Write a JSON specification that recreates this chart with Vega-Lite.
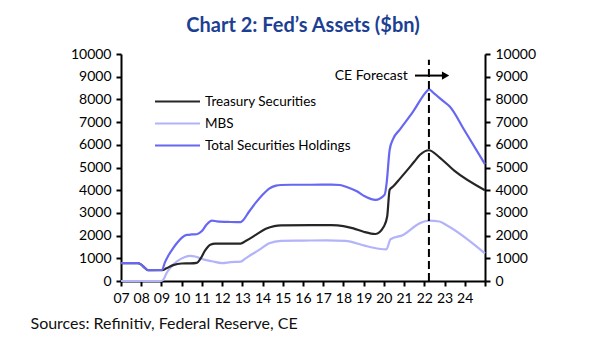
{
  "$schema": "https://vega.github.io/schema/vega-lite/v6.json",
  "width": 364,
  "height": 227,
  "autosize": {"type": "none"},
  "padding": {"left": 121, "top": 54, "right": 120, "bottom": 60},
  "background": "white",
  "config": {
    "view": {"stroke": null},
    "font": "Lato",
    "axis": {
      "domainColor": "black",
      "domainWidth": 2,
      "tickColor": "black",
      "tickWidth": 2,
      "tickSize": 5,
      "labelColor": "black",
      "labelFont": "Lato",
      "labelFontSize": 14,
      "grid": false,
      "labelPadding": 5
    }
  },
  "title": {
    "text": "Chart 2: Fed’s Assets ($bn)",
    "anchor": "middle",
    "frame": "group",
    "font": "Lato",
    "fontSize": 20,
    "fontWeight": "bold",
    "color": "#1d3f93",
    "offset": 11
  },
  "datasets": {
    "fed": [
      {"d": "2007-01-01", "s": "MBS", "v": 0},
      {"d": "2009-01-01", "s": "MBS", "v": 0},
      {"d": "2009-02-15", "s": "MBS", "v": 100},
      {"d": "2009-04-01", "s": "MBS", "v": 340},
      {"d": "2009-07-01", "s": "MBS", "v": 650},
      {"d": "2009-10-01", "s": "MBS", "v": 850},
      {"d": "2010-03-01", "s": "MBS", "v": 1060},
      {"d": "2010-06-01", "s": "MBS", "v": 1110},
      {"d": "2010-09-01", "s": "MBS", "v": 1080},
      {"d": "2011-01-01", "s": "MBS", "v": 970},
      {"d": "2011-07-01", "s": "MBS", "v": 870},
      {"d": "2012-01-01", "s": "MBS", "v": 790},
      {"d": "2012-06-01", "s": "MBS", "v": 830},
      {"d": "2012-12-01", "s": "MBS", "v": 850},
      {"d": "2013-03-01", "s": "MBS", "v": 1000},
      {"d": "2013-11-01", "s": "MBS", "v": 1370},
      {"d": "2014-05-01", "s": "MBS", "v": 1660},
      {"d": "2014-12-01", "s": "MBS", "v": 1770},
      {"d": "2016-01-01", "s": "MBS", "v": 1780},
      {"d": "2017-03-01", "s": "MBS", "v": 1790},
      {"d": "2018-02-01", "s": "MBS", "v": 1770},
      {"d": "2019-02-01", "s": "MBS", "v": 1550},
      {"d": "2019-10-01", "s": "MBS", "v": 1420},
      {"d": "2020-02-15", "s": "MBS", "v": 1390},
      {"d": "2020-05-01", "s": "MBS", "v": 1840},
      {"d": "2020-12-15", "s": "MBS", "v": 2030},
      {"d": "2021-10-15", "s": "MBS", "v": 2550},
      {"d": "2022-03-25", "s": "MBS", "v": 2660},
      {"d": "2022-10-01", "s": "MBS", "v": 2620},
      {"d": "2023-02-01", "s": "MBS", "v": 2470},
      {"d": "2024-12-31", "s": "MBS", "v": 1220},

      {"d": "2007-01-01", "s": "Treasury Securities", "v": 790},
      {"d": "2007-07-01", "s": "Treasury Securities", "v": 790},
      {"d": "2007-11-01", "s": "Treasury Securities", "v": 785},
      {"d": "2008-01-01", "s": "Treasury Securities", "v": 720},
      {"d": "2008-03-01", "s": "Treasury Securities", "v": 590},
      {"d": "2008-05-01", "s": "Treasury Securities", "v": 480},
      {"d": "2009-01-15", "s": "Treasury Securities", "v": 475},
      {"d": "2009-04-01", "s": "Treasury Securities", "v": 560},
      {"d": "2009-08-01", "s": "Treasury Securities", "v": 700},
      {"d": "2010-01-01", "s": "Treasury Securities", "v": 770},
      {"d": "2010-06-01", "s": "Treasury Securities", "v": 775},
      {"d": "2010-10-01", "s": "Treasury Securities", "v": 800},
      {"d": "2010-12-01", "s": "Treasury Securities", "v": 960},
      {"d": "2011-03-01", "s": "Treasury Securities", "v": 1350},
      {"d": "2011-06-01", "s": "Treasury Securities", "v": 1600},
      {"d": "2011-09-01", "s": "Treasury Securities", "v": 1650},
      {"d": "2012-06-01", "s": "Treasury Securities", "v": 1650},
      {"d": "2012-12-01", "s": "Treasury Securities", "v": 1650},
      {"d": "2013-03-01", "s": "Treasury Securities", "v": 1760},
      {"d": "2013-09-01", "s": "Treasury Securities", "v": 2030},
      {"d": "2014-03-01", "s": "Treasury Securities", "v": 2300},
      {"d": "2014-08-01", "s": "Treasury Securities", "v": 2420},
      {"d": "2014-12-01", "s": "Treasury Securities", "v": 2450},
      {"d": "2016-06-01", "s": "Treasury Securities", "v": 2460},
      {"d": "2017-06-01", "s": "Treasury Securities", "v": 2460},
      {"d": "2018-01-01", "s": "Treasury Securities", "v": 2420},
      {"d": "2018-07-01", "s": "Treasury Securities", "v": 2320},
      {"d": "2019-01-01", "s": "Treasury Securities", "v": 2170},
      {"d": "2019-08-01", "s": "Treasury Securities", "v": 2070},
      {"d": "2020-01-01", "s": "Treasury Securities", "v": 2400},
      {"d": "2020-03-01", "s": "Treasury Securities", "v": 2840},
      {"d": "2020-04-15", "s": "Treasury Securities", "v": 4020},
      {"d": "2020-06-15", "s": "Treasury Securities", "v": 4160},
      {"d": "2020-10-15", "s": "Treasury Securities", "v": 4500},
      {"d": "2021-02-15", "s": "Treasury Securities", "v": 4850},
      {"d": "2021-07-01", "s": "Treasury Securities", "v": 5250},
      {"d": "2021-10-15", "s": "Treasury Securities", "v": 5560},
      {"d": "2022-03-25", "s": "Treasury Securities", "v": 5760},
      {"d": "2022-10-01", "s": "Treasury Securities", "v": 5450},
      {"d": "2023-07-01", "s": "Treasury Securities", "v": 4850},
      {"d": "2024-12-31", "s": "Treasury Securities", "v": 4000},

      {"d": "2007-01-01", "s": "Total Securities Holdings", "v": 790},
      {"d": "2007-07-01", "s": "Total Securities Holdings", "v": 790},
      {"d": "2007-11-01", "s": "Total Securities Holdings", "v": 785},
      {"d": "2008-01-01", "s": "Total Securities Holdings", "v": 720},
      {"d": "2008-03-01", "s": "Total Securities Holdings", "v": 590},
      {"d": "2008-05-01", "s": "Total Securities Holdings", "v": 480},
      {"d": "2008-12-15", "s": "Total Securities Holdings", "v": 485},
      {"d": "2009-01-15", "s": "Total Securities Holdings", "v": 500},
      {"d": "2009-03-01", "s": "Total Securities Holdings", "v": 800},
      {"d": "2009-05-01", "s": "Total Securities Holdings", "v": 1100},
      {"d": "2009-08-01", "s": "Total Securities Holdings", "v": 1450},
      {"d": "2009-10-01", "s": "Total Securities Holdings", "v": 1650},
      {"d": "2010-01-01", "s": "Total Securities Holdings", "v": 1900},
      {"d": "2010-04-01", "s": "Total Securities Holdings", "v": 2030},
      {"d": "2010-07-01", "s": "Total Securities Holdings", "v": 2050},
      {"d": "2010-10-01", "s": "Total Securities Holdings", "v": 2060},
      {"d": "2011-01-01", "s": "Total Securities Holdings", "v": 2200},
      {"d": "2011-04-01", "s": "Total Securities Holdings", "v": 2500},
      {"d": "2011-07-01", "s": "Total Securities Holdings", "v": 2660},
      {"d": "2011-10-01", "s": "Total Securities Holdings", "v": 2630},
      {"d": "2012-06-01", "s": "Total Securities Holdings", "v": 2600},
      {"d": "2012-12-01", "s": "Total Securities Holdings", "v": 2590},
      {"d": "2013-01-15", "s": "Total Securities Holdings", "v": 2680},
      {"d": "2013-05-01", "s": "Total Securities Holdings", "v": 3050},
      {"d": "2013-09-01", "s": "Total Securities Holdings", "v": 3450},
      {"d": "2014-01-01", "s": "Total Securities Holdings", "v": 3800},
      {"d": "2014-05-01", "s": "Total Securities Holdings", "v": 4070},
      {"d": "2014-09-01", "s": "Total Securities Holdings", "v": 4200},
      {"d": "2014-12-01", "s": "Total Securities Holdings", "v": 4230},
      {"d": "2015-06-01", "s": "Total Securities Holdings", "v": 4240},
      {"d": "2016-06-01", "s": "Total Securities Holdings", "v": 4240},
      {"d": "2017-06-01", "s": "Total Securities Holdings", "v": 4250},
      {"d": "2017-11-01", "s": "Total Securities Holdings", "v": 4230},
      {"d": "2018-03-01", "s": "Total Securities Holdings", "v": 4140},
      {"d": "2018-09-01", "s": "Total Securities Holdings", "v": 3950},
      {"d": "2019-02-01", "s": "Total Securities Holdings", "v": 3720},
      {"d": "2019-08-01", "s": "Total Securities Holdings", "v": 3575},
      {"d": "2020-01-15", "s": "Total Securities Holdings", "v": 3800},
      {"d": "2020-02-20", "s": "Total Securities Holdings", "v": 4310},
      {"d": "2020-04-15", "s": "Total Securities Holdings", "v": 5780},
      {"d": "2020-06-15", "s": "Total Securities Holdings", "v": 6250},
      {"d": "2020-10-15", "s": "Total Securities Holdings", "v": 6670},
      {"d": "2021-06-15", "s": "Total Securities Holdings", "v": 7475},
      {"d": "2022-02-15", "s": "Total Securities Holdings", "v": 8360},
      {"d": "2022-03-25", "s": "Total Securities Holdings", "v": 8440},
      {"d": "2022-07-01", "s": "Total Securities Holdings", "v": 8250},
      {"d": "2022-12-10", "s": "Total Securities Holdings", "v": 7920},
      {"d": "2023-04-01", "s": "Total Securities Holdings", "v": 7700},
      {"d": "2024-01-01", "s": "Total Securities Holdings", "v": 6620},
      {"d": "2024-12-31", "s": "Total Securities Holdings", "v": 5150}
    ]
  },
  "resolve": {"scale": {"y": "independent"}, "axis": {"y": "independent"}},
  "layer": [
    {
      "data": {"name": "fed"},
      "mark": {"type": "line", "strokeWidth": 2.2, "interpolate": "monotone"},
      "encoding": {
        "x": {
          "field": "d",
          "type": "temporal",
          "scale": {"domain": [{"year": 2007, "month": 1, "date": 1}, {"year": 2025, "month": 1, "date": 1}]},
          "axis": {
            "tickCount": {"interval": "year", "step": 1},
            "labelExpr": "year(datum.value) > 2024 ? '' : timeFormat(datum.value, '%y')",
            "labelOverlap": false,
            "labelFlush": false,
            "title": "Sources: Refinitiv, Federal Reserve, CE",
            "titleFont": "Lato",
            "titleFontSize": 16,
            "titleFontWeight": "normal",
            "titleColor": "#111111",
            "titleAlign": "left",
            "titleBaseline": "alphabetic",
            "titleX": -91,
            "titleY": 47
          }
        },
        "y": {
          "field": "v",
          "type": "quantitative",
          "scale": {"domain": [0, 10000]},
          "axis": {"values": [0, 1000, 2000, 3000, 4000, 5000, 6000, 7000, 8000, 9000, 10000], "format": "d", "title": null, "orient": "left"}
        },
        "color": {
          "field": "s",
          "type": "nominal",
          "scale": {
            "domain": ["Treasury Securities", "MBS", "Total Securities Holdings"],
            "range": ["#262626", "#b3b3fb", "#6767f2"]
          },
          "legend": {
            "orient": "none",
            "legendX": 44,
            "legendY": 35,
            "title": null,
            "symbolType": "M-2,0H2",
            "symbolSize": 506,
            "symbolStrokeWidth": 2.2,
            "labelFont": "Lato",
            "labelFontSize": 13.5,
            "labelColor": "black",
            "labelOffset": 15,
            "rowPadding": 3
          }
        }
      }
    },
    {
      "data": {"values": [{}]},
      "mark": {"type": "rule", "color": "black", "strokeWidth": 2, "strokeDash": [8, 4]},
      "encoding": {
        "x": {"datum": {"year": 2022, "month": 3, "date": 25}, "type": "temporal"},
        "y": {
          "datum": 0,
          "type": "quantitative",
          "scale": {"domain": [0, 10000]},
          "axis": {"values": [0, 1000, 2000, 3000, 4000, 5000, 6000, 7000, 8000, 9000, 10000], "format": "d", "title": null, "orient": "right"}
        },
        "y2": {"datum": 9750}
      }
    },
    {
      "data": {"values": [{}]},
      "mark": {"type": "text", "align": "right", "baseline": "middle", "font": "Lato", "fontSize": 14, "color": "black"},
      "encoding": {
        "x": {"datum": {"year": 2021, "month": 3, "date": 10}, "type": "temporal"},
        "y": {"datum": 9050, "type": "quantitative", "scale": {"domain": [0, 10000]}, "axis": null},
        "text": {"value": "CE Forecast"}
      }
    },
    {
      "data": {"values": [{}]},
      "mark": {"type": "rule", "color": "black", "strokeWidth": 2},
      "encoding": {
        "x": {"datum": {"year": 2021, "month": 7, "date": 16}, "type": "temporal"},
        "x2": {"datum": {"year": 2023, "month": 1, "date": 1}},
        "y": {"datum": 9050, "type": "quantitative", "scale": {"domain": [0, 10000]}, "axis": null}
      }
    },
    {
      "data": {"values": [{}]},
      "mark": {"type": "point", "shape": "triangle-right", "filled": true, "color": "black", "opacity": 1, "size": 70},
      "encoding": {
        "x": {"datum": {"year": 2023, "month": 1, "date": 20}, "type": "temporal"},
        "y": {"datum": 9050, "type": "quantitative", "scale": {"domain": [0, 10000]}, "axis": null}
      }
    }
  ]
}
